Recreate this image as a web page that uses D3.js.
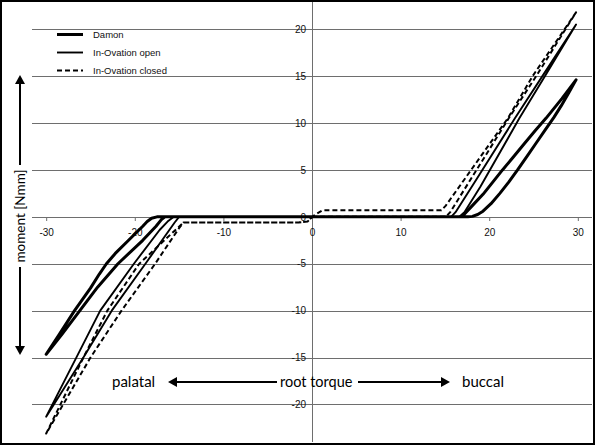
<!DOCTYPE html>
<html>
<head>
<meta charset="utf-8">
<script src="https://cdn.jsdelivr.net/npm/d3@7"></script>
<style>
  body { margin: 0; background: #fff; }
  svg { display: block; }
  .tick text { font-family: "Liberation Sans", Arial, sans-serif; font-size: 10px; fill: #111; }
</style>
</head>
<body>
<svg width="595" height="445"></svg>
<script>
// hysteresis loops, [root torque, moment] in cycle order
var damon = [
  [0,0],[17.6,0],[18.1,0.05],[18.7,0.25],[19.3,0.6],[20.2,1.4],[21.2,2.5],[22.2,3.7],[23.2,5],
  [24.3,6.5],[25.3,7.87],[26.3,9.24],[27.3,10.6],[28.1,11.8],[28.9,13.1],[29.8,14.6],
  [28.2,12.6],[26.4,10.5],[25.2,9.2],[24,7.85],[22.7,6.35],[21.5,5],[20.4,3.7],[19.3,2.4],
  [18.2,1.3],[17.4,0.5],[17.0,0.1],[16.7,0],
  [0,0],[-17.5,0],[-18.1,-0.15],[-18.6,-0.5],[-19.1,-1],[-20.7,-2.5],[-22.2,-3.9],[-23.2,-5],
  [-24.0,-6.1],[-25.0,-7.6],[-26.8,-10],[-28.5,-12.5],[-30,-14.65],
  [-28.2,-12.5],[-26.2,-10],[-24.2,-7.5],[-21.9,-5],[-19.1,-2.5],[-17.6,-1],[-17.0,-0.3],[-16.6,0],[0,0]
];
var ovOpen = [
  [0,0],[16.6,0],[17.2,0.5],[19,3.2],[23.4,10.5],[26.3,15],[29.8,20.5],
  [26.0,15],[22.9,10.5],[18.3,3.6],[16.2,0.5],[15.7,0],
  [0,0],[-15.6,0],[-16.3,-0.5],[-17.2,-1.4],[-20.1,-5],[-23.9,-10],[-26.6,-15],[-30,-21.3],
  [-25.8,-15],[-22.6,-10],[-18.8,-5],[-15.5,-0.6],[-15.0,0],[0,0]
];
var ovClosed = [
  [0,0],[15.1,0],[15.6,0.5],[22.2,10.5],[25.3,15],[29.8,21.8],
  [24.9,15],[22.1,10.5],[15.1,1.2],[14.6,0.7],[1.2,0.7],[0.3,0.2],[-0.5,-0.5],[-1.5,-0.6],
  [-14.5,-0.6],[-15.3,-1.3],[-19.5,-5],[-23.1,-10],[-25.8,-15],[-30,-23.1],
  [-25.0,-15],[-21.5,-10],[-17.7,-5],[-15.0,-1.2],[-14.5,-0.6],[-1.5,-0.6],[-0.5,-0.5],[0,0]
];
var xTicks = [-30,-20,-10,0,10,20,30];
var yTicks = [-20,-15,-10,-5,0,5,10,15,20];
var seriesNames = ["Damon", "In-Ovation open", "In-Ovation closed"];

var svg = d3.select("svg"),
    width = 595,
    height = 445;

var x = d3.scaleLinear().domain([-31.6, 31.6]).range([32, 592]);
var y = d3.scaleLinear().domain([-24, 22.9]).range([442, 2]);

// grid
svg.append("g").selectAll("line")
    .data(yTicks).enter().append("line")
    .attr("x1", 32).attr("x2", 592)
    .attr("y1", function(d) { return Math.round(y(d)) + 0.5; })
    .attr("y2", function(d) { return Math.round(y(d)) + 0.5; })
    .attr("stroke", "#6e6e6e")
    .attr("stroke-width", 1);

svg.append("line")
    .attr("x1", Math.round(x(0)) + 0.5).attr("x2", Math.round(x(0)) + 0.5)
    .attr("y1", 2).attr("y2", 442)
    .attr("stroke", "#6e6e6e");

// axes
var xAxis = d3.axisBottom(x).tickValues(xTicks).tickSize(4).tickPadding(8)
    .tickFormat(function(d) { return String(d); });
svg.append("g")
    .attr("transform", "translate(0," + Math.round(y(0)) + ")")
    .call(xAxis)
    .call(function(g) { g.select(".domain").remove(); })
    .call(function(g) { g.selectAll(".tick line").attr("stroke", "#6e6e6e"); });

var yAxis = d3.axisLeft(y).tickValues(yTicks).tickSize(0).tickPadding(6)
    .tickFormat(function(d) { return String(d); });
svg.append("g")
    .attr("transform", "translate(" + Math.round(x(0)) + ",0)")
    .call(yAxis)
    .call(function(g) { g.select(".domain").remove(); });

// series
var line = d3.line()
    .x(function(d) { return x(d[0]); })
    .y(function(d) { return y(d[1]); });

var styles = [
  {data: damon, w: 3, dash: null},
  {data: ovOpen, w: 1.9, dash: null},
  {data: ovClosed, w: 2, dash: "5,3"}
];

svg.append("g").selectAll("path")
    .data(styles.slice().reverse()).enter().append("path")
    .attr("fill", "none")
    .attr("stroke", "#000")
    .attr("stroke-linejoin", "round")
    .attr("stroke-width", function(d) { return d.w; })
    .attr("stroke-dasharray", function(d) { return d.dash; })
    .attr("d", function(d) { return line(d.data); });

// legend
var legend = svg.append("g").attr("class", "legend");
var lg = legend.selectAll("g").data(styles).enter().append("g")
    .attr("transform", function(d, i) { return "translate(57," + (34.5 + i * 18) + ")"; });
lg.append("line")
    .attr("x1", 0).attr("x2", 26)
    .attr("stroke", "#000")
    .attr("stroke-width", function(d) { return d.w; })
    .attr("stroke-dasharray", function(d) { return d.dash; });
lg.append("text")
    .attr("x", 36).attr("dy", "0.35em")
    .style("font-family", "'Liberation Sans', Arial, sans-serif")
    .style("font-size", "9.5px")
    .style("fill", "#111")
    .text(function(d, i) { return seriesNames[i]; });

// y axis title with arrows
function arrowHead(g, tx, ty, dir) {
  // dir: "up", "down", "left", "right"
  var s = 5, l = 9, p;
  if (dir == "up") p = [[tx, ty], [tx - s, ty + l], [tx + s, ty + l]];
  if (dir == "down") p = [[tx, ty], [tx - s, ty - l], [tx + s, ty - l]];
  if (dir == "left") p = [[tx, ty], [tx + l, ty - s], [tx + l, ty + s]];
  if (dir == "right") p = [[tx, ty], [tx - l, ty - s], [tx - l, ty + s]];
  g.append("path")
    .attr("d", "M" + p.join("L") + "Z")
    .attr("fill", "#000");
}

var ann = svg.append("g");
ann.append("line").attr("x1", 20).attr("x2", 20).attr("y1", 80).attr("y2", 165)
    .attr("stroke", "#000").attr("stroke-width", 2);
ann.append("line").attr("x1", 20).attr("x2", 20).attr("y1", 267).attr("y2", 350)
    .attr("stroke", "#000").attr("stroke-width", 2);
arrowHead(ann, 20, 75, "up");
arrowHead(ann, 20, 355, "down");
ann.append("text")
    .attr("transform", "translate(25,216) rotate(-90)")
    .attr("text-anchor", "middle")
    .style("font-family", "Lato, sans-serif")
    .style("font-size", "13.5px")
    .text("moment [Nmm]");

// bottom annotation
var fontB = "Lato, sans-serif";
ann.append("text").attr("x", 112).attr("y", 387)
    .style("font-family", fontB).style("font-size", "15px").text("palatal");
ann.append("line").attr("x1", 174).attr("x2", 277).attr("y1", 382).attr("y2", 382)
    .attr("stroke", "#000").attr("stroke-width", 2);
arrowHead(ann, 168, 382, "left");
ann.append("text").attr("x", 280).attr("y", 387)
    .style("font-family", fontB).style("font-size", "14.5px").text("root torque");
ann.append("line").attr("x1", 358).attr("x2", 444).attr("y1", 382).attr("y2", 382)
    .attr("stroke", "#000").attr("stroke-width", 2);
arrowHead(ann, 450, 382, "right");
ann.append("text").attr("x", 462).attr("y", 387)
    .style("font-family", fontB).style("font-size", "15px").text("buccal");

// frame
svg.append("rect")
    .attr("x", 1).attr("y", 1)
    .attr("width", width - 2).attr("height", height - 2)
    .attr("fill", "none")
    .attr("stroke", "#000")
    .attr("stroke-width", 2);
</script>
</body>
</html>
